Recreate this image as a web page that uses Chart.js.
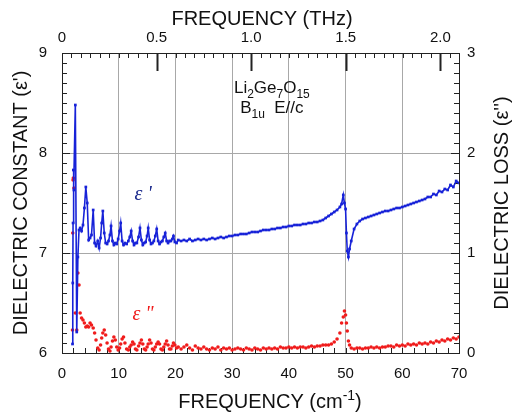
<!DOCTYPE html>
<html>
<head>
<meta charset="utf-8">
<script src="https://cdn.jsdelivr.net/npm/chart.js@4.4.0/dist/chart.umd.min.js"></script>
<style>
  html, body { margin: 0; padding: 0; background: #fff; }
  #wrap { width: 512px; height: 416px; }
</style>
</head>
<body>
<div id="wrap"><canvas id="chart" width="512" height="416"></canvas></div>
<script>
// ------------------------
// Data
// ------------------------

const CM_PER_THZ = 33.356;

// frequency in cm^-1
const freq = [
  1.85, 1.9, 1.95, 2.0, 2.1, 2.35, 2.6, 2.8, 3.0, 3.2,
  3.45, 3.7, 3.95, 4.2, 4.45, 4.7, 4.95, 5.2, 5.5, 5.75,
  6.0, 6.3, 6.55, 6.8, 7.0, 7.2, 7.45, 7.7, 7.95, 8.2,
  8.45, 8.65, 8.9, 9.15, 9.4, 9.65, 9.9, 10.15, 10.35, 10.6,
  10.85, 11.1, 11.4, 11.7, 11.95, 12.2, 12.45, 12.7, 12.95, 13.2,
  13.5, 13.75, 14.0, 14.25, 14.5, 14.75, 15.0, 15.2, 15.45, 15.7,
  15.95, 16.2, 16.45, 16.7, 16.95, 17.2, 17.45, 17.7, 17.95, 18.2,
  18.45, 18.7, 18.95, 19.2, 19.45, 19.65, 19.9, 20.2, 20.5, 21.0,
  21.5, 22.0, 22.5, 23.0, 23.5, 24.0, 24.5, 25.0, 25.5, 26.0,
  26.5, 27.0, 27.5, 28.0, 28.5, 29.0, 29.5, 30.0, 30.5, 31.0,
  31.5, 32.0, 32.5, 33.0, 33.5, 34.0, 34.5, 35.0, 35.5, 36.0,
  36.5, 37.0, 37.5, 38.0, 38.5, 39.0, 39.5, 40.0, 40.5, 41.0,
  41.5, 42.0, 42.5, 43.0, 43.5, 44.0, 44.5, 45.0, 45.5, 46.0,
  46.5, 47.0, 47.5, 48.0, 48.5, 49.0, 49.3, 49.6, 49.8, 50.0,
  50.15, 50.3, 50.5, 50.7, 51.0, 51.5, 52.0, 52.5, 53.0, 53.5,
  54.0, 54.5, 55.0, 55.5, 56.0, 56.5, 57.0, 57.5, 58.0, 58.5,
  59.0, 59.5, 60.0, 60.5, 61.0, 61.5, 62.0, 62.5, 63.0, 63.5,
  64.0, 64.5, 65.0, 65.5, 66.0, 66.5, 67.0, 67.5, 68.0, 68.5,
  69.0, 69.5, 70.0
];

// dielectric constant (left axis)
const epsReal = [
  6.09, 6.7, 7.3, 7.83, 7.63, 8.48, 6.21, 6.96, 7.23, 7.25,
  7.22, 7.28, 7.45, 7.66, 7.5, 7.13, 7.15, 7.18, 7.43, 7.1,
  7.07, 7.12, 7.05, 7.15, 7.3, 7.42, 7.2, 7.1, 7.09, 7.12,
  7.18, 7.27, 7.12, 7.08, 7.1, 7.09, 7.14, 7.22, 7.3, 7.12,
  7.08, 7.1, 7.09, 7.12, 7.16, 7.22, 7.12, 7.08, 7.1, 7.1,
  7.16, 7.25, 7.13, 7.08, 7.1, 7.11, 7.17, 7.25, 7.13, 7.09,
  7.1, 7.12, 7.17, 7.24, 7.12, 7.09, 7.11, 7.12, 7.16, 7.2,
  7.12, 7.1, 7.12, 7.12, 7.14, 7.17, 7.11, 7.1, 7.13, 7.12,
  7.13, 7.12, 7.14, 7.12, 7.13, 7.14, 7.13, 7.14, 7.13, 7.14,
  7.15, 7.14, 7.15, 7.16, 7.15, 7.16, 7.17, 7.17, 7.18, 7.18,
  7.19, 7.19, 7.19, 7.2, 7.21, 7.21, 7.21, 7.22, 7.23, 7.23,
  7.23, 7.24, 7.24, 7.25, 7.25, 7.26, 7.26, 7.27, 7.27, 7.28,
  7.28, 7.28, 7.29, 7.29, 7.3, 7.3, 7.31, 7.31, 7.32, 7.33,
  7.35, 7.37, 7.39, 7.41, 7.43, 7.46, 7.49, 7.58, 7.5, 7.44,
  7.2, 7.02, 6.96, 7.04, 7.12, 7.24, 7.29, 7.32, 7.34, 7.35,
  7.36, 7.37, 7.38, 7.39, 7.4, 7.41, 7.42, 7.42, 7.43, 7.44,
  7.45, 7.45, 7.46, 7.47, 7.48, 7.49, 7.5, 7.51, 7.52, 7.53,
  7.54, 7.56, 7.56, 7.59, 7.58, 7.62, 7.61, 7.64, 7.63, 7.68,
  7.66, 7.72, 7.7
];

// dielectric loss (right axis)
const epsImag = [
  0.23, 1.2, 1.73, 1.75, 1.65, 0.4, 0.23, 0.8, 0.68, 0.4,
  0.35, 0.33, 0.3, 0.26, 0.27, 0.26, 0.3, 0.28, 0.25, 0.2,
  0.13, 0.05, 0.03, 0.08, 0.15, 0.2, 0.23, 0.18, 0.1, 0.04,
  0.02, 0.06, 0.12, 0.16, 0.13, 0.06, 0.03, 0.05, 0.09, 0.14,
  0.16, 0.1, 0.04, 0.03, 0.06, 0.08, 0.11, 0.09, 0.04, 0.03,
  0.07, 0.1, 0.13, 0.09, 0.04, 0.03, 0.06, 0.09, 0.13, 0.1,
  0.04, 0.03, 0.06, 0.09, 0.11, 0.09, 0.04, 0.03, 0.06, 0.09,
  0.12, 0.08, 0.04, 0.04, 0.07, 0.1, 0.08, 0.05, 0.06, 0.04,
  0.06, 0.08, 0.05, 0.03, 0.07, 0.05, 0.04, 0.06, 0.04, 0.03,
  0.05, 0.04, 0.06, 0.03, 0.05, 0.04, 0.05, 0.03, 0.04, 0.05,
  0.04, 0.03, 0.05, 0.04, 0.03, 0.05, 0.04, 0.03, 0.05, 0.04,
  0.05, 0.04, 0.05, 0.04, 0.06, 0.05, 0.05, 0.06, 0.05, 0.06,
  0.05, 0.06, 0.06, 0.05, 0.06, 0.07, 0.06, 0.07, 0.07, 0.08,
  0.08, 0.08, 0.09, 0.11, 0.14, 0.2, 0.3, 0.36, 0.42, 0.38,
  0.3, 0.22, 0.12, 0.08, 0.05, 0.04, 0.05, 0.05, 0.04, 0.05,
  0.05, 0.06, 0.05, 0.06, 0.05, 0.06, 0.06, 0.07, 0.07, 0.06,
  0.08, 0.07, 0.08, 0.07, 0.09, 0.08, 0.09, 0.08, 0.1, 0.09,
  0.1, 0.09, 0.11, 0.1, 0.12, 0.11, 0.13, 0.12, 0.14, 0.13,
  0.15, 0.14, 0.16
];

// axis ticks
const xTicks = [0, 10, 20, 30, 40, 50, 60, 70];
const yLeftTicks = [6, 7, 8, 9];
const yRightTicks = [0, 1, 2, 3];
const thzTicks = [0, 0.5, 1.0, 1.5, 2.0];
const thzLabels = ['0', '0.5', '1.0', '1.5', '2.0'];

// ------------------------
// Styling
// ------------------------

const FONT = "'Liberation Sans', Arial, Helvetica, sans-serif";
const tickFont = { family: FONT, size: 15 };
const BLUE = '#1722d8';
const RED = '#f01c1c';
const FRAME = '#222';
const GRID = '#a8a8a8';

const pts = (ys) => freq.map((f, i) => ({ x: f, y: ys[i] }));
const fixTicks = (arr) => (s) => { s.ticks = arr.map(v => ({ value: v })); };

// draw text with sub/superscript parts, centred on x
function drawRich(ctx, parts, cx, y, size) {
  const big = `${size}px ${FONT}`;
  const small = `${Math.round(size * 0.68)}px ${FONT}`;
  let w = 0;
  parts.forEach(p => { ctx.font = p.s ? small : big; w += ctx.measureText(p.t).width; });
  let x = cx - w / 2;
  parts.forEach(p => {
    ctx.font = p.s ? small : big;
    const dy = p.s === 'sub' ? size * 0.3 : p.s === 'sup' ? -size * 0.38 : 0;
    ctx.fillText(p.t, x, y + dy);
    x += ctx.measureText(p.t).width;
  });
}

// ------------------------
// Plugins
// ------------------------

const innerTicks = {
  id: 'innerTicks',
  beforeDatasetsDraw(chart) {
    const { ctx, chartArea: a, scales } = chart;
    const line = (x1, y1, x2, y2) => { ctx.beginPath(); ctx.moveTo(x1, y1); ctx.lineTo(x2, y2); ctx.stroke(); };
    ctx.save();
    ctx.strokeStyle = FRAME;
    ctx.lineWidth = 1;
    // bottom: every 2 cm-1
    for (let i = 0; i <= 35; i++) {
      const x = Math.round(scales.x.getPixelForValue(i * 2)) + 0.5;
      line(x, a.bottom, x, a.bottom - 5);
    }
    // left / right: every 0.1
    for (let i = 0; i <= 30; i++) {
      const len = i % 10 === 0 ? 8 : 5;
      const yl = Math.round(scales.y.getPixelForValue(6 + i / 10)) + 0.5;
      line(a.left, yl, a.left + len, yl);
      const yr = Math.round(scales.y2.getPixelForValue(i / 10)) + 0.5;
      line(a.right, yr, a.right - len, yr);
    }
    // top: every 0.05 THz, long ticks every 0.5
    for (let i = 0; i * 0.05 <= scales.xTop.max + 1e-9; i++) {
      const x = Math.round(scales.xTop.getPixelForValue(i * 0.05)) + 0.5;
      if (i % 10 === 0 && i > 0) {
        ctx.lineWidth = 2;
        line(x, a.top, x, a.top + 18);
        ctx.lineWidth = 1;
      } else {
        line(x, a.top, x, a.top + 5);
      }
    }
    ctx.restore();
  }
};

const labelsPlugin = {
  id: 'labelsPlugin',
  afterDraw(chart) {
    const { ctx, chartArea: a, scales } = chart;
    const midY = (a.top + a.bottom) / 2;
    ctx.save();
    ctx.fillStyle = '#111';
    ctx.textBaseline = 'alphabetic';
    ctx.textAlign = 'left';

    // axis titles
    drawRich(ctx, [{ t: 'FREQUENCY (THz)' }], 262, 25, 20);
    drawRich(ctx, [{ t: 'FREQUENCY (cm' }, { t: '-1', s: 'sup' }, { t: ')' }], 270, 408, 20);

    ctx.save();
    ctx.translate(27, midY);
    ctx.rotate(-Math.PI / 2);
    drawRich(ctx, [{ t: "DIELECTRIC CONSTANT (\u03b5')" }], 0, 0, 20);
    ctx.restore();

    ctx.save();
    ctx.translate(508, midY);
    ctx.rotate(-Math.PI / 2);
    drawRich(ctx, [{ t: "DIELECTRIC LOSS (\u03b5'')" }], 0, 0, 20);
    ctx.restore();

    // sample annotation
    const cx = scales.x.getPixelForValue(37);
    drawRich(ctx, [{ t: 'Li' }, { t: '2', s: 'sub' }, { t: 'Ge' }, { t: '7', s: 'sub' }, { t: 'O' }, { t: '15', s: 'sub' }], cx, 93, 17);
    drawRich(ctx, [{ t: 'B' }, { t: '1u', s: 'sub' }, { t: '  E//c' }], cx, 113, 17);

    // series labels
    ctx.font = `italic 20px 'Liberation Serif', serif`;
    ctx.textAlign = 'center';
    ctx.fillStyle = '#1b2a8c';
    ctx.fillText("\u03b5 '", scales.x.getPixelForValue(14.3), scales.y.getPixelForValue(7.53));
    ctx.fillStyle = RED;
    ctx.fillText('\u03b5 "', scales.x.getPixelForValue(14.3), scales.y2.getPixelForValue(0.33));
    ctx.restore();
  }
};

// ------------------------
// Chart
// ------------------------

new Chart(document.getElementById('chart'), {
  type: 'scatter',
  data: {
    datasets: [
      {
        label: "\u03b5'",
        data: pts(epsReal),
        xAxisID: 'x',
        yAxisID: 'y',
        showLine: true,
        borderColor: BLUE,
        backgroundColor: BLUE,
        borderWidth: 1.6,
        pointStyle: 'rect',
        pointRadius: 1.9,
        pointBorderWidth: 0
      },
      {
        label: "\u03b5''",
        data: pts(epsImag),
        xAxisID: 'x',
        yAxisID: 'y2',
        showLine: false,
        borderColor: RED,
        backgroundColor: RED,
        pointRadius: 1.8,
        pointBorderWidth: 0
      }
    ]
  },
  options: {
    responsive: false,
    animation: false,
    devicePixelRatio: 1,
    layout: { padding: 0 },
    plugins: { legend: { display: false }, tooltip: { enabled: false } },
    scales: {
      x: {
        type: 'linear', position: 'bottom', min: 0, max: 70,
        afterBuildTicks: fixTicks(xTicks),
        afterFit: s => { s.height = 63; },
        ticks: { font: tickFont, color: '#111', padding: 12, maxRotation: 0, autoSkip: false },
        grid: { color: GRID, lineWidth: 1, drawTicks: false },
        border: { color: FRAME, width: 1 }
      },
      xTop: {
        type: 'linear', position: 'top', min: 0, max: 70 / CM_PER_THZ,
        afterBuildTicks: fixTicks(thzTicks),
        afterFit: s => { s.height = 53; },
        ticks: { font: tickFont, color: '#111', padding: 6, maxRotation: 0, autoSkip: false,
                 callback: (v, i) => thzLabels[i] },
        grid: { drawOnChartArea: false, drawTicks: false },
        border: { color: FRAME, width: 1 }
      },
      y: {
        type: 'linear', position: 'left', min: 6, max: 9,
        afterBuildTicks: fixTicks(yLeftTicks),
        afterFit: s => { s.width = 62; },
        ticks: { font: tickFont, color: '#111', padding: 15 },
        grid: { color: GRID, lineWidth: 1, drawTicks: false },
        border: { color: FRAME, width: 1 }
      },
      y2: {
        type: 'linear', position: 'right', min: 0, max: 3,
        afterBuildTicks: fixTicks(yRightTicks),
        afterFit: s => { s.width = 53; },
        ticks: { font: tickFont, color: '#111', padding: 8 },
        grid: { drawOnChartArea: false, drawTicks: false },
        border: { color: FRAME, width: 1 }
      }
    }
  },
  plugins: [innerTicks, labelsPlugin]
});
</script>
</body>
</html>
